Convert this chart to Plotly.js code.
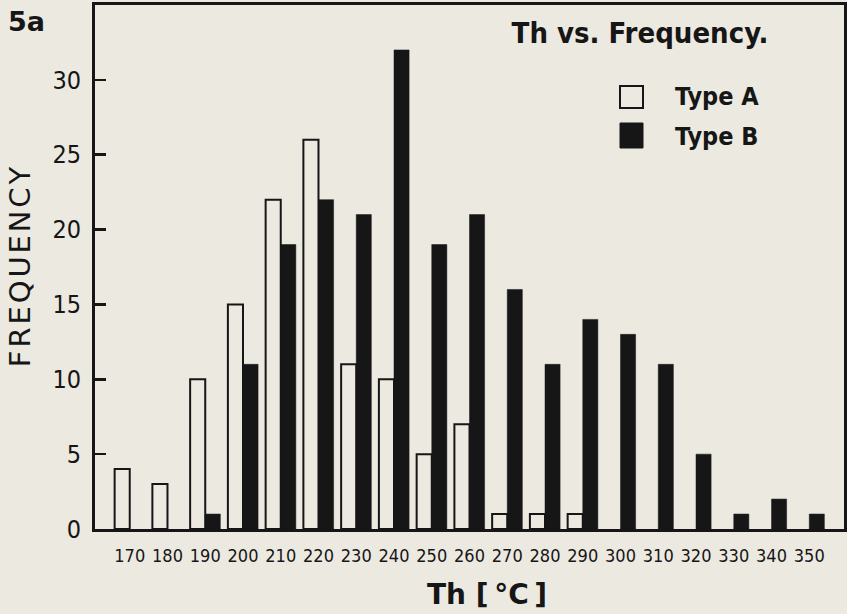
<!DOCTYPE html>
<html>
<head>
<meta charset="utf-8">
<script src="https://cdn.plot.ly/plotly-3.0.1.min.js"></script>
<style>
html,body{margin:0;padding:0;background:#ece9e1;}
#chart{width:847px;height:614px;}
</style>
</head>
<body>
<div id="chart"></div>
<script>
// Homogenization temperature classes (°C)
var categories = ["170","180","190","200","210","220","230","240","250","260","270","280","290","300","310","320","330","340","350"];
// Frequencies
var typeA = [4, 3, 10, 15, 22, 26, 11, 10, 5, 7, 1, 1, 1, 0, 0, 0, 0, 0, 0];
var typeB = [0, 0, 1, 11, 19, 22, 21, 32, 19, 21, 16, 11, 14, 13, 11, 5, 1, 2, 1];
var yTicks = [0, 5, 10, 15, 20, 25, 30];
var seriesNames = ["Type A", "Type B"];

var BG = "#ece9e1";
var INK = "#161616";

// empty classes are drawn as no bar at all (as in the original)
function noZero(arr) { return arr.map(function (v) { return v === 0 ? null : v; }); }

var traces = [
  {
    type: "bar", name: seriesNames[0], x: categories, y: noZero(typeA),
    marker: {color: BG, line: {color: INK, width: 2}},
    showlegend: false, hoverinfo: "x+y"
  },
  {
    type: "bar", name: seriesNames[1], x: categories, y: noZero(typeB),
    marker: {color: INK, line: {color: INK, width: 0.5}},
    showlegend: false, hoverinfo: "x+y"
  }
];

var layout = {
  width: 847, height: 614,
  paper_bgcolor: BG, plot_bgcolor: BG,
  margin: {l: 95, r: 3, t: 5, b: 85},
  barmode: "group", bargap: 0.2, bargroupgap: 0,
  title: {
    text: "Th vs. Frequency.",
    font: {family: "DejaVu Sans Condensed", size: 29, color: INK, weight: "bold"},
    x: 640/847, xanchor: "center", xref: "container",
    y: 1 - 33/614, yanchor: "middle", yref: "container"
  },
  xaxis: {
    type: "category",
    range: [-0.92, 18.92],
    showline: true, linecolor: INK, linewidth: 3, mirror: true,
    ticks: "", showgrid: false, zeroline: false,
    tickfont: {family: "DejaVu Sans Condensed", size: 18, color: INK},
    ticklabelstandoff: 8
  },
  yaxis: {
    range: [0, 35],
    tickvals: yTicks, ticktext: yTicks.map(String),
    ticks: "inside", ticklen: 11, tickwidth: 2.5, tickcolor: INK,
    showline: true, linecolor: INK, linewidth: 3, mirror: true,
    showgrid: false, zeroline: false,
    tickfont: {family: "DejaVu Sans Condensed", size: 25, color: INK},
    ticklabelstandoff: 6,
    title: {text: "F\u200AR\u200AE\u200AQ\u200AU\u200AE\u200AN\u200AC\u200AY", font: {family: "DejaVu Sans", size: 29, color: INK}, standoff: 14}
  },
  shapes: [
    {type: "rect", xref: "paper", yref: "paper",
     x0: (620-95)/749, x1: (643-95)/749, y0: (529-108)/524, y1: (529-86)/524,
     line: {color: INK, width: 2}, fillcolor: BG},
    {type: "rect", xref: "paper", yref: "paper",
     x0: (620-95)/749, x1: (643-95)/749, y0: (529-148)/524, y1: (529-123)/524,
     line: {color: INK, width: 1}, fillcolor: INK}
  ],
  annotations: [
    {text: seriesNames[0], xref: "paper", yref: "paper", x: (673-95)/749, y: (529-97)/524,
     xanchor: "left", yanchor: "middle", showarrow: false,
     font: {family: "DejaVu Sans Condensed", size: 25, color: INK, weight: "bold"}},
    {text: seriesNames[1], xref: "paper", yref: "paper", x: (673-95)/749, y: (529-136)/524,
     xanchor: "left", yanchor: "middle", showarrow: false,
     font: {family: "DejaVu Sans Condensed", size: 25, color: INK, weight: "bold"}},
    {text: "5a", xref: "paper", yref: "paper", x: (6-95)/749, y: (529-21)/524,
     xanchor: "left", yanchor: "middle", showarrow: false,
     font: {family: "DejaVu Sans", size: 27, color: INK, weight: "bold"}},
    {text: "Th [\u2009°C\u2009]", xref: "paper", yref: "paper", x: (487-95)/749, y: (529-594)/524,
     xanchor: "center", yanchor: "middle", showarrow: false,
     font: {family: "DejaVu Sans", size: 28, color: INK, weight: "bold"}}
  ]
};

Plotly.newPlot("chart", traces, layout, {displayModeBar: false, staticPlot: true});
</script>
</body>
</html>
